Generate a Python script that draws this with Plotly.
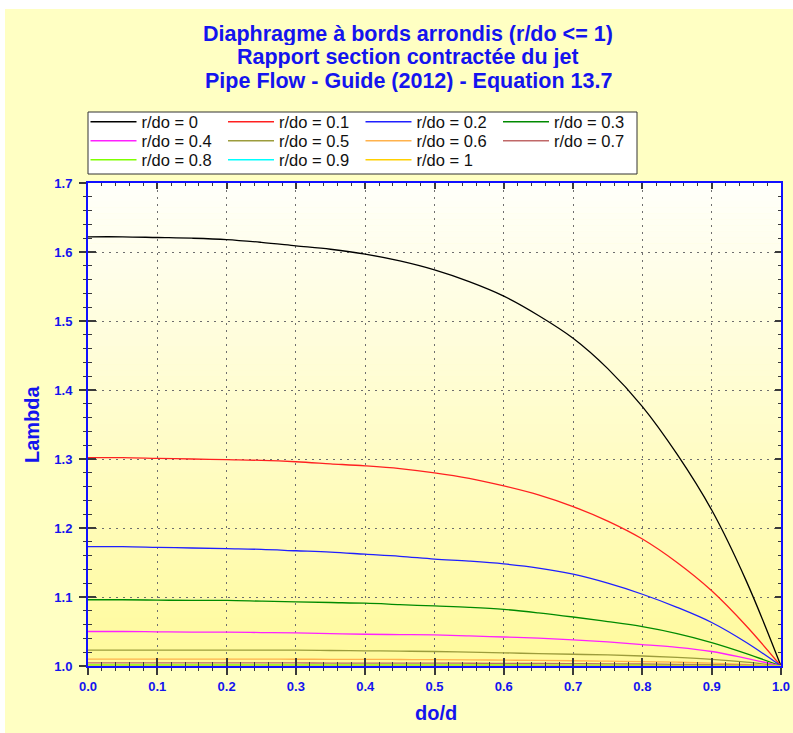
import plotly.graph_objects as go

# ---------------- data ----------------
do_d = [0.0, 0.05, 0.1, 0.15, 0.2, 0.25, 0.3, 0.35, 0.4, 0.45, 0.5,
        0.55, 0.6, 0.65, 0.7, 0.75, 0.8, 0.85, 0.9, 0.95, 1.0]

r_do_labels = ["0", "0.1", "0.2", "0.3", "0.4", "0.5", "0.6", "0.7", "0.8", "0.9", "1"]

lam_r00 = [1.622, 1.622, 1.621, 1.620, 1.618, 1.614, 1.609, 1.604, 1.597, 1.587, 1.574,
           1.557, 1.536, 1.508, 1.475, 1.431, 1.376, 1.307, 1.226, 1.123, 1.0]
lam_r01 = [1.302, 1.302, 1.301, 1.300, 1.299, 1.298, 1.296, 1.293, 1.290, 1.286, 1.280,
           1.272, 1.261, 1.248, 1.231, 1.210, 1.184, 1.150, 1.109, 1.058, 1.0]
lam_r02 = [1.173, 1.173, 1.172, 1.171, 1.170, 1.169, 1.167, 1.165, 1.162, 1.159, 1.155,
           1.152, 1.148, 1.142, 1.133, 1.120, 1.104, 1.085, 1.063, 1.034, 1.0]
lam_r03 = [1.096, 1.096, 1.0955, 1.095, 1.095, 1.094, 1.093, 1.092, 1.091, 1.089, 1.087,
           1.085, 1.082, 1.077, 1.071, 1.0644, 1.057, 1.047, 1.034, 1.018, 1.0]
lam_r04 = [1.050, 1.050, 1.0495, 1.049, 1.049, 1.0485, 1.048, 1.047, 1.046, 1.0455, 1.045,
           1.0437, 1.042, 1.0404, 1.038, 1.0349, 1.031, 1.027, 1.021, 1.011, 1.0]
lam_r05 = [1.023, 1.023, 1.023, 1.023, 1.023, 1.023, 1.023, 1.0225, 1.022, 1.0215, 1.021,
           1.020, 1.019, 1.018, 1.017, 1.016, 1.0145, 1.0125, 1.0097, 1.0055, 1.0]
lam_r06 = [1.0100, 1.0100, 1.0100, 1.0100, 1.0099, 1.0099, 1.0098, 1.0097, 1.0096, 1.0094, 1.0092,
           1.0089, 1.0085, 1.0081, 1.0076, 1.0070, 1.0064, 1.0055, 1.0043, 1.0024, 1.0]
lam_r07 = [1.0045, 1.0045, 1.0045, 1.0045, 1.0045, 1.0044, 1.0044, 1.0043, 1.0043, 1.0042, 1.0041,
           1.0040, 1.0038, 1.0036, 1.0034, 1.0032, 1.0029, 1.0025, 1.0019, 1.0011, 1.0]
lam_r08 = [1.0017, 1.0017, 1.0017, 1.0017, 1.0017, 1.0017, 1.0017, 1.0016, 1.0016, 1.0016, 1.0016,
           1.0015, 1.0015, 1.0014, 1.0013, 1.0012, 1.0011, 1.0009, 1.0007, 1.0004, 1.0]
lam_r09 = [1.0005, 1.0005, 1.0005, 1.0005, 1.0005, 1.0005, 1.0005, 1.0005, 1.0005, 1.0005, 1.0005,
           1.0004, 1.0004, 1.0004, 1.0004, 1.0003, 1.0003, 1.0003, 1.0002, 1.0001, 1.0]
lam_r10 = [1.0, 1.0, 1.0, 1.0, 1.0, 1.0, 1.0, 1.0, 1.0, 1.0, 1.0,
           1.0, 1.0, 1.0, 1.0, 1.0, 1.0, 1.0, 1.0, 1.0, 1.0]

series = [lam_r00, lam_r01, lam_r02, lam_r03, lam_r04, lam_r05,
          lam_r06, lam_r07, lam_r08, lam_r09, lam_r10]

x_ticks = [0.0, 0.1, 0.2, 0.3, 0.4, 0.5, 0.6, 0.7, 0.8, 0.9, 1.0]
y_ticks = [1.0, 1.1, 1.2, 1.3, 1.4, 1.5, 1.6, 1.7]

title_lines = ["Diaphragme à bords arrondis (r/do <= 1)",
               "Rapport section contractée du jet",
               "Pipe Flow - Guide (2012) - Equation 13.7"]
x_title = "do/d"
y_title = "Lambda"

# ---------------- style ----------------
colors = ["#000000", "#FF2020", "#1F1FFF", "#008A00", "#FF20FF", "#9C9C3C",
          "#FFB24C", "#C06868", "#7FFF00", "#00FFFF", "#FFD000"]
BLUE = "#1414EE"
FONT = "Arial, Liberation Sans, sans-serif"

W, H = 793, 733
L, R, T, B = 88, 12, 183, 67
PW, PH = W - L - R, H - T - B


def px_x(px):
    return (px - L) / PW


def px_y(py):
    return (H - B - py) / PH


# legend grid (4 columns x 3 rows), pixel positions of each entry
LEG_COL_PX = [85.5, 223.0, 360.5, 498.0]
LEG_ROW_PX = [122.0, 141.0, 160.0]

fig = go.Figure()
legends = {}
for i, (lab, ys, c) in enumerate(zip(r_do_labels, series, colors)):
    lname = "legend" if i == 0 else f"legend{i + 1}"
    fig.add_trace(go.Scatter(x=do_d, y=ys, mode="lines", name=f"r/do = {lab}",
                             legend=lname,
                             line=dict(color=c, width=1.3, shape="spline", smoothing=1.0)))
    legends[lname] = dict(orientation="v",
                          x=px_x(LEG_COL_PX[i % 4]), y=px_y(LEG_ROW_PX[i // 4]),
                          xanchor="left", yanchor="middle",
                          bgcolor="rgba(0,0,0,0)", borderwidth=0,
                          font=dict(family=FONT, size=16.5, color="#111111"),
                          itemwidth=46, tracegroupgap=0)

shapes = []
# outer light-yellow panel
shapes.append(dict(type="rect", xref="paper", yref="paper", layer="below",
                   x0=px_x(5), x1=px_x(W + 5), y0=px_y(H + 5), y1=px_y(9),
                   fillcolor="#FFFFC3", line=dict(width=0)))
# legend frame
shapes.append(dict(type="rect", xref="paper", yref="paper", layer="below",
                   x0=px_x(88), x1=px_x(637), y0=px_y(174), y1=px_y(112),
                   fillcolor="white", line=dict(color="#333333", width=1)))
# plot-area vertical gradient (white at top -> yellow at bottom)
N = 80
top = (255, 255, 250)
bot = (255, 250, 155)
for i in range(N):
    t = (i + 0.5) / N
    col = tuple(round(top[k] + (bot[k] - top[k]) * t) for k in range(3))
    shapes.append(dict(type="rect", xref="paper", yref="paper", layer="below",
                       x0=0, x1=1, y0=1 - (i + 1) / N - 0.001, y1=1 - i / N,
                       fillcolor="rgb(%d,%d,%d)" % col, line=dict(width=0)))

annotations = []
for i, txt in enumerate(title_lines):
    annotations.append(dict(text=txt, xref="paper", yref="paper", x=px_x(408), y=px_y(33 + 23.7 * i),
                            xanchor="center", yanchor="middle", showarrow=False,
                            height=23, valign="middle",
                            font=dict(family=FONT, size=21.5, color=BLUE, weight="bold")))
annotations.append(dict(text=y_title, xref="paper", yref="paper", x=px_x(32), y=px_y(424),
                        xanchor="center", yanchor="middle", showarrow=False, textangle=-90,
                        font=dict(family=FONT, size=20, color=BLUE, weight="bold")))
annotations.append(dict(text=x_title, xref="paper", yref="paper", x=px_x(436), y=px_y(713),
                        xanchor="center", yanchor="middle", showarrow=False,
                        font=dict(family=FONT, size=20, color=BLUE, weight="bold")))

TICKC = "#3A3A3A"
grid = dict(showgrid=True, gridcolor="#6E6E6E", gridwidth=1, griddash="2px,5px")

fig.update_layout(
    width=W, height=H,
    margin=dict(l=L, r=R, t=T, b=B, pad=0, autoexpand=False),
    paper_bgcolor="white", plot_bgcolor="rgba(0,0,0,0)",
    shapes=shapes, annotations=annotations,
    showlegend=True,
    xaxis=dict(range=[0, 1], tickvals=x_ticks, ticktext=[f"{v:.1f}" for v in x_ticks],
               ticks="outside", ticklen=7, tickwidth=1.5, tickcolor=TICKC,
               minor=dict(dtick=0.02, tick0=0, ticks="outside", ticklen=3, tickwidth=1, tickcolor=TICKC, showgrid=False),
               showline=True, linecolor="#1010FF", linewidth=2, mirror=True,
               tickfont=dict(family=FONT, size=13, color=BLUE, weight="bold"),
               zeroline=False, fixedrange=True, **grid),
    yaxis=dict(range=[1.0, 1.7], tickvals=y_ticks, ticktext=[f"{v:.1f}" for v in y_ticks],
               ticks="outside", ticklen=7, tickwidth=1.5, tickcolor=TICKC,
               minor=dict(dtick=0.02, tick0=1.0, ticks="outside", ticklen=3, tickwidth=1, tickcolor=TICKC, showgrid=False),
               showline=True, linecolor="#1010FF", linewidth=2, mirror=True,
               tickfont=dict(family=FONT, size=13, color=BLUE, weight="bold"),
               ticklabelstandoff=4,
               zeroline=False, fixedrange=True, **grid),
    # inner tick parts (bottom / left) and mirrored inside ticks (top / right)
    xaxis2=dict(range=[0, 1], overlaying="x", side="bottom", tickvals=x_ticks, showticklabels=False,
                ticks="inside", ticklen=8, tickwidth=1.5, tickcolor=TICKC,
                minor=dict(dtick=0.02, tick0=0, ticks="inside", ticklen=4, tickwidth=1, tickcolor=TICKC),
                showgrid=False, showline=False, zeroline=False, fixedrange=True),
    xaxis3=dict(range=[0, 1], overlaying="x", side="top", tickvals=x_ticks, showticklabels=False,
                ticks="inside", ticklen=6, tickwidth=1.5, tickcolor=TICKC,
                minor=dict(dtick=0.02, tick0=0, ticks="inside", ticklen=3, tickwidth=1, tickcolor=TICKC),
                showgrid=False, showline=False, zeroline=False, fixedrange=True),
    yaxis2=dict(range=[1.0, 1.7], overlaying="y", side="left", tickvals=y_ticks, showticklabels=False,
                ticks="inside", ticklen=8, tickwidth=1.5, tickcolor=TICKC,
                minor=dict(dtick=0.02, tick0=1.0, ticks="inside", ticklen=4, tickwidth=1, tickcolor=TICKC),
                showgrid=False, showline=False, zeroline=False, fixedrange=True),
    yaxis3=dict(range=[1.0, 1.7], overlaying="y", side="right", tickvals=y_ticks, showticklabels=False,
                ticks="inside", ticklen=6, tickwidth=1.5, tickcolor=TICKC,
                minor=dict(dtick=0.02, tick0=1.0, ticks="inside", ticklen=3, tickwidth=1, tickcolor=TICKC),
                showgrid=False, showline=False, zeroline=False, fixedrange=True),
    **legends,
)

# empty helper traces so that the overlay tick axes are instantiated
fig.add_trace(go.Scatter(x=[], y=[], xaxis="x2", yaxis="y2", showlegend=False, hoverinfo="skip"))
fig.add_trace(go.Scatter(x=[], y=[], xaxis="x3", yaxis="y3", showlegend=False, hoverinfo="skip"))

fig.write_html("out.html")
